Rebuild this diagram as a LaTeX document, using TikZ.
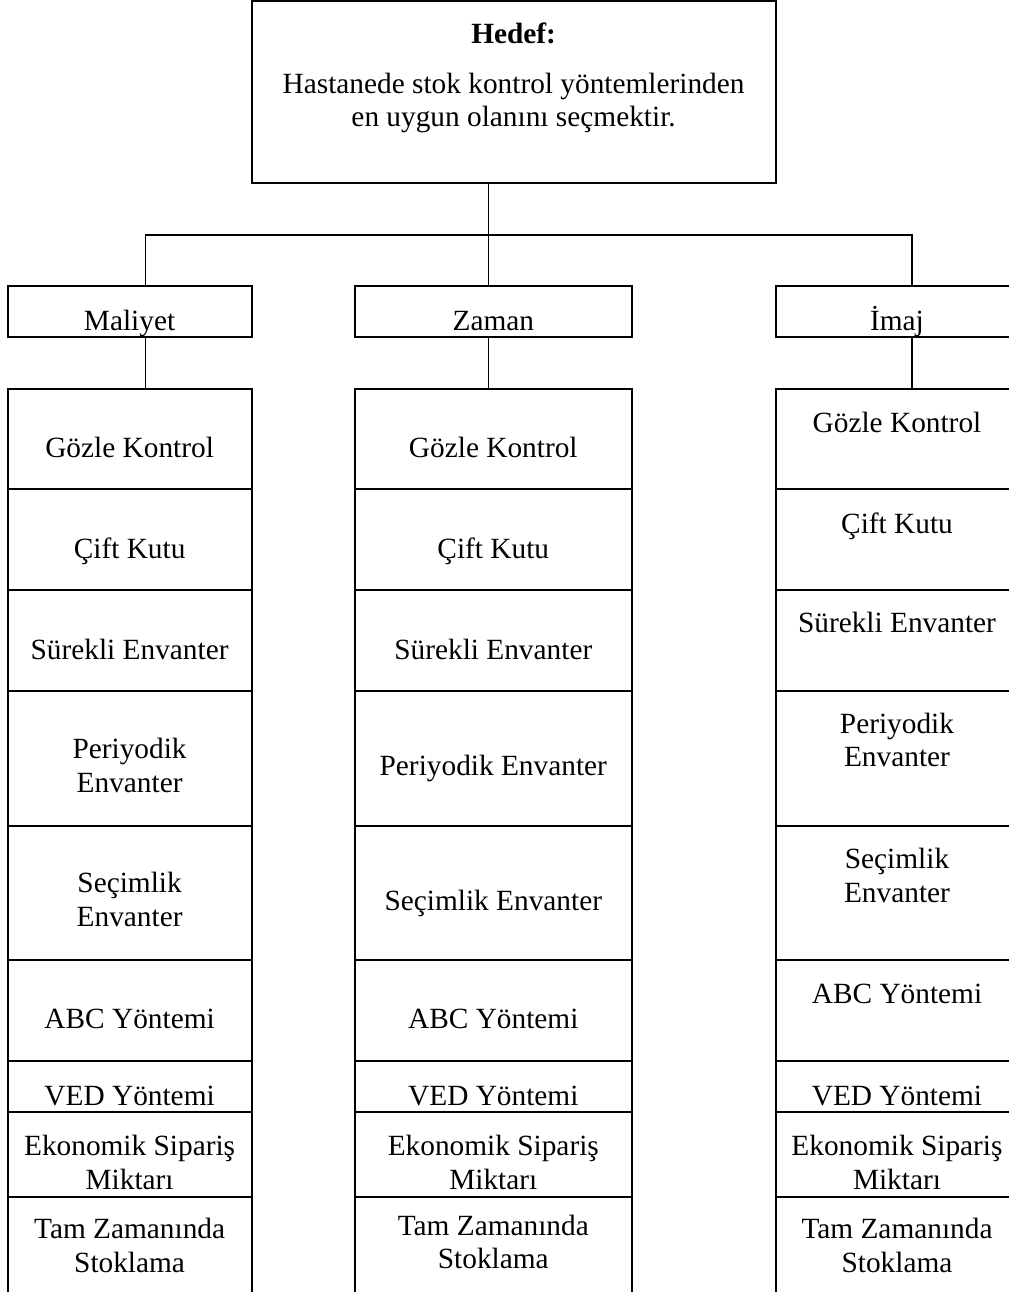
\documentclass[tikz,border=0pt]{standalone}
\usepackage{fontspec}
\setmainfont{Liberation Serif}
\usetikzlibrary{fit}
\begin{document}
\begin{tikzpicture}[x=0.75pt,y=-0.75pt,
  cell/.style={draw, line width=1.5pt, inner sep=0pt, outer sep=0pt, rectangle},
  txt/.style={inner sep=0pt, align=center, font=\fontsize{22}{24.8}\selectfont},
  conn/.style={line width=1pt}]
\useasboundingbox (0,0) rectangle (1009,1292);
\clip (0,0) rectangle (1009,1292);
% goal box
\node[cell, fit={(251.7,1) (775.5,183)}] (hedef) {};
\node[txt] (hedeft) at (513.6,78.4) {\textbf{Hedef:}\strut\\[12pt]Hastanede stok kontrol yöntemlerinden\strut\\en uygun olanını seçmektir.\strut};
% criteria boxes
\node[cell, fit={(7.5,286) (251.7,337)}] (maliyet) {};
\node[cell, fit={(355,286) (631.7,337)}] (zaman) {};
\node[cell, fit={(775.5,286) (1019,337)}] (imaj) {};
\node[txt] (maliyett) at (129.6,323.4) {Maliyet\strut};
\node[txt] (zamant) at (493.3,323.4) {Zaman\strut};
\node[txt] (imajt) at (897,323.4) {İmaj\strut};
% alternative cells
\foreach \c/\xa/\xb in {l/7.5/251.7, m/355/631.7, r/775.5/1019}{
  \foreach \r/\ya/\yb in {1/389/489, 2/489/590, 3/590/691, 4/691/826, 5/826/960, 6/960/1061, 7/1061/1112, 8/1112/1197, 9/1197/1310}{
    \node[cell, fit={(\xa,\ya) (\xb,\yb)}] (\c\r) {};
  }
}
% connectors
\coordinate (ja) at (145.5,235);
\coordinate (jb) at (488.5,235);
\coordinate (jc) at (912,235);
\draw[conn] (jb |- hedef.south) -- (jb);
\draw[conn] (ja |- maliyet.north) -- (ja) -- (jc) -- (jc |- imaj.north);
\draw[conn] (jb) -- (jb |- zaman.north);
\draw[conn] (ja |- maliyet.south) -- (ja |- l1.north);
\draw[conn] (jb |- zaman.south) -- (jb |- m1.north);
\draw[conn] (jc |- imaj.south) -- (jc |- r1.north);
% left column texts
\node[txt] (l1t) at (129.6,450.4) {Gözle Kontrol\strut};
\node[txt] (l2t) at (129.6,551.4) {Çift Kutu\strut};
\node[txt] (l3t) at (129.6,652.4) {Sürekli Envanter\strut};
\node[txt] (l4t) at (129.6,768.9) {Periyodik\strut\\Envanter\strut};
\node[txt] (l5t) at (129.6,902.9) {Seçimlik\strut\\Envanter\strut};
\node[txt] (l6t) at (129.6,1021.4) {ABC Yöntemi\strut};
\node[txt] (l7t) at (129.6,1098.4) {VED Yöntemi\strut};
\node[txt] (l8t) at (129.6,1165.9) {Ekonomik Sipariş\strut\\Miktarı\strut};
\node[txt] (l9t) at (129.6,1248.9) {Tam Zamanında\strut\\Stoklama\strut};
% middle column texts
\node[txt] (m1t) at (493.3,450.4) {Gözle Kontrol\strut};
\node[txt] (m2t) at (493.3,551.4) {Çift Kutu\strut};
\node[txt] (m3t) at (493.3,652.4) {Sürekli Envanter\strut};
\node[txt] (m4t) at (493.3,768.4) {Periyodik Envanter\strut};
\node[txt] (m5t) at (493.3,903.4) {Seçimlik Envanter\strut};
\node[txt] (m6t) at (493.3,1021.4) {ABC Yöntemi\strut};
\node[txt] (m7t) at (493.3,1098.4) {VED Yöntemi\strut};
\node[txt] (m8t) at (493.3,1165.9) {Ekonomik Sipariş\strut\\Miktarı\strut};
\node[txt] (m9t) at (493.3,1245.4) {Tam Zamanında\strut\\Stoklama\strut};
% right column texts
\node[txt] (r1t) at (897,425.4) {Gözle Kontrol\strut};
\node[txt] (r2t) at (897,526.4) {Çift Kutu\strut};
\node[txt] (r3t) at (897,625.4) {Sürekli Envanter\strut};
\node[txt] (r4t) at (897,743.4) {Periyodik\strut\\Envanter\strut};
\node[txt] (r5t) at (897,878.9) {Seçimlik\strut\\Envanter\strut};
\node[txt] (r6t) at (897,996.4) {ABC Yöntemi\strut};
\node[txt] (r7t) at (897,1098.4) {VED Yöntemi\strut};
\node[txt] (r8t) at (897,1165.9) {Ekonomik Sipariş\strut\\Miktarı\strut};
\node[txt] (r9t) at (897,1248.9) {Tam Zamanında\strut\\Stoklama\strut};
\end{tikzpicture}
\end{document}
